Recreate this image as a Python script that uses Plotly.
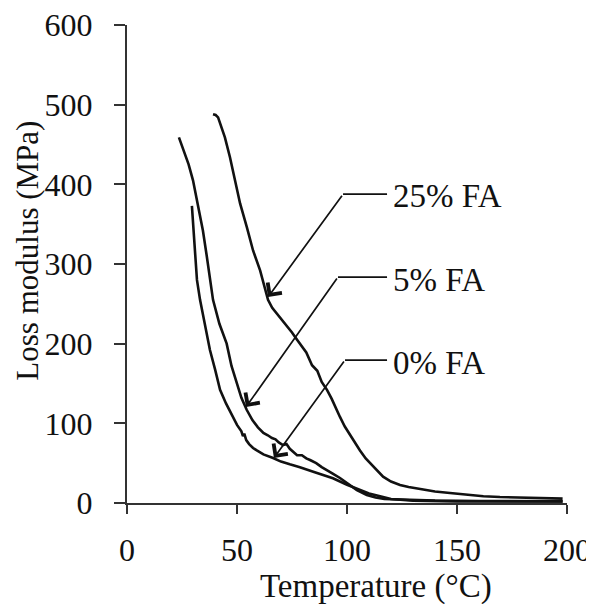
import plotly.graph_objects as go

# ---- data ----
t_25 = [39.1, 40.3, 41.4, 43.0, 44.5, 46.8, 49.1, 51.4, 54.5, 57.3, 60.5, 62.5, 64.1, 66.0,
        68.0, 70.5, 73.0, 75.0, 77.3, 79.5, 81.5, 84.1, 86.5, 88.5, 90.9, 93.0, 95.0, 96.8,
        99.0, 101.4, 103.5, 105.9, 108.5, 111.4, 114.0, 116.4, 120.0, 124.1, 128.0, 133.0,
        140.0, 146.8, 155.0, 162.0, 169.5, 180.0, 190.0, 198.0]
e_25 = [488, 487, 484, 472, 459, 434, 405, 376, 346, 317, 292, 272, 255, 245,
        238, 230, 222, 214, 205, 197, 189, 173, 166, 152, 142, 131, 118, 108,
        96, 85, 76, 66, 56, 48, 40, 33, 27, 22.6, 20, 17.6,
        14.5, 12.5, 10, 8.5, 7.5, 6.5, 6, 5.5]

t_5 = [23.6, 25.5, 28.0, 30.0, 32.0, 34.5, 36.2, 37.7, 39.1, 42.0, 45.3, 47.5, 50.0, 52.0, 54.4,
       57.0, 59.5, 62.0, 64.0, 65.9, 67.5, 69.0, 70.9, 72.5, 74.0, 75.5, 77.3, 79.5, 81.5,
       83.2, 86.0, 88.5, 90.9, 93.5, 96.8, 100.5, 104.5, 109.0, 113.0, 117.0, 125.0, 140.0,
       160.0, 180.0, 198.0]
e_5 = [459, 445, 425, 405, 377, 342, 311, 280, 255, 225, 200, 172, 150, 132, 117,
       104, 95, 88, 85, 81.6, 80, 76, 72.8, 74, 68, 64, 60, 60, 56,
       54, 50, 45, 41.4, 37, 31.4, 24, 16.3, 10, 7, 5, 4, 3,
       2.5, 2, 2]

t_0 = [29.5, 29.8, 30.2, 31.0, 31.8, 33.2, 35.5, 37.7, 40.0, 42.3, 45.0, 48.2, 50.0, 52.0,
       52.7, 53.3, 54.2, 55.5, 57.3, 59.0, 62.0, 66.4, 70.0, 74.0, 78.6, 85.0, 93.6, 100.0,
       105.9, 110.0, 116.4, 120.0, 130.0, 150.0, 175.0, 198.0]
e_0 = [373, 360, 340, 310, 280, 255, 222, 192, 168, 142, 125, 108, 98, 90,
       84, 87, 79, 74, 69, 66, 61, 56.5, 52, 48.5, 45, 39, 31, 23,
       16, 12, 7.5, 5, 3, 2, 2, 2]

series_names = ["25% FA", "5% FA", "0% FA"]
# arrow tip, bend point (data coords) and label height for each series
tip_t = [64.1, 54.1, 66.8]
tip_e = [258.5, 120.5, 56.5]
bend_t = [98.2, 95.9, 99.1]
bend_e = [387.7, 283.6, 179.4]
leader_end_t = 118.2
label_t = 120.0
label_e = [385.0, 280.0, 175.7]

x_ticks = [0, 50, 100, 150, 200]
y_ticks = [0, 100, 200, 300, 400, 500, 600]

FONT = "Liberation Serif"
INK = "#111111"
AXIS = "#333333"

fig = go.Figure()
for t, e, n in [(t_25, e_25, series_names[0]), (t_5, e_5, series_names[1]), (t_0, e_0, series_names[2])]:
    fig.add_trace(go.Scatter(x=t, y=e, mode="lines", name=n,
                             line=dict(color=INK, width=2.6), showlegend=False))

annotations = []
shapes = []
for i, n in enumerate(series_names):
    annotations.append(dict(x=tip_t[i], y=tip_e[i], xref="x", yref="y",
                            ax=bend_t[i], ay=bend_e[i], axref="x", ayref="y",
                            text="", showarrow=True, arrowhead=4, arrowsize=2.0,
                            arrowwidth=1.7, arrowcolor=INK, standoff=0, startstandoff=0))
    shapes.append(dict(type="line", xref="x", yref="y",
                       x0=bend_t[i], y0=bend_e[i], x1=leader_end_t, y1=bend_e[i],
                       line=dict(color=INK, width=1.7)))
    annotations.append(dict(x=label_t, y=label_e[i], xref="x", yref="y",
                            text=n, showarrow=False, xanchor="left", yanchor="middle",
                            font=dict(family=FONT, size=33, color=INK)))

# axis titles
annotations.append(dict(x=0.566, y=-0.174, xref="paper", yref="paper",
                        text="Temperature (°C)", showarrow=False,
                        xanchor="center", yanchor="middle",
                        font=dict(family=FONT, size=33, color=INK)))
annotations.append(dict(x=-0.226, y=0.527, xref="paper", yref="paper",
                        text="Loss modulus (MPa)", showarrow=False, textangle=-90,
                        xanchor="center", yanchor="middle",
                        font=dict(family=FONT, size=31, color=INK)))

# the page body has an 8 px margin, so the figure is sized to fit inside the window
fig.update_layout(
    width=586, height=596,
    margin=dict(l=119, r=27, t=17, b=101),
    paper_bgcolor="white", plot_bgcolor="white",
    annotations=annotations, shapes=shapes,
    xaxis=dict(range=[0, 200], tickvals=x_ticks, ticktext=[str(v) for v in x_ticks],
               ticks="outside", ticklen=9, tickwidth=2, tickcolor=AXIS,
               showline=True, linewidth=2, linecolor=AXIS,
               showgrid=False, zeroline=False, automargin=False,
               ticklabelstandoff=9, ticklabeloverflow="allow",
               tickfont=dict(family=FONT, size=32, color=INK)),
    yaxis=dict(range=[0, 600], tickvals=y_ticks, ticktext=[str(v) for v in y_ticks],
               ticks="outside", ticklen=11, tickwidth=2, tickcolor=AXIS,
               showline=True, linewidth=2, linecolor=AXIS,
               showgrid=False, zeroline=False, automargin=False,
               ticklabelstandoff=15, ticklabeloverflow="allow",
               tickfont=dict(family=FONT, size=32, color=INK)),
)

fig.write_html("out.html")
